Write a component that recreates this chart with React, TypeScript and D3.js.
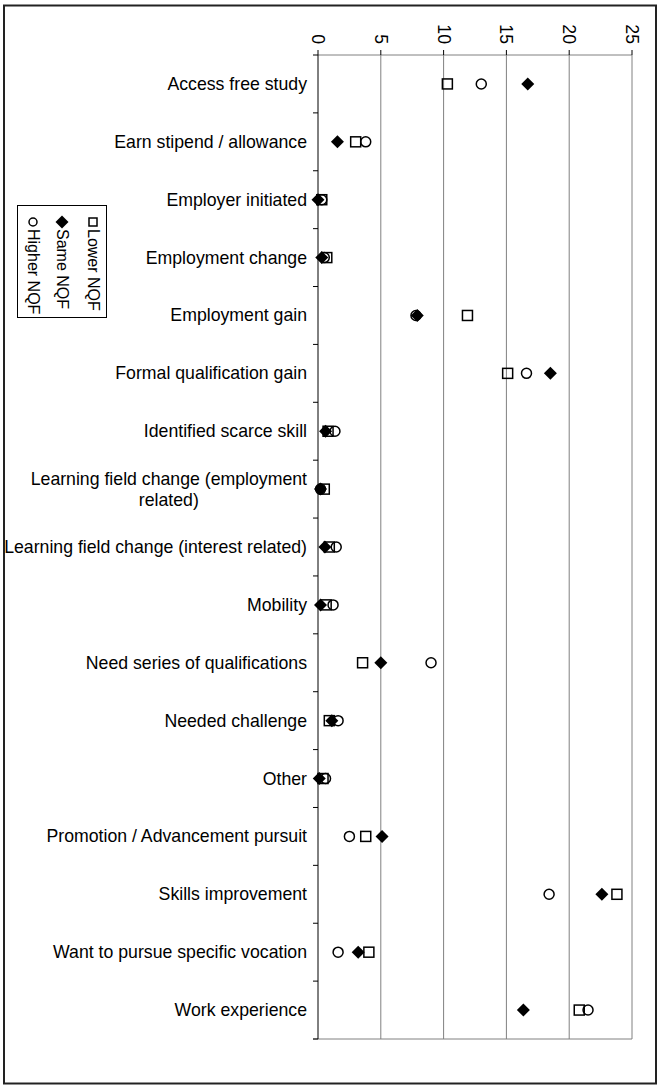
import { useEffect, useRef } from 'react';
import * as d3 from 'd3';

const categories = [
  'Access free study',
  'Earn stipend / allowance',
  'Employer initiated',
  'Employment change',
  'Employment gain',
  'Formal qualification gain',
  'Identified scarce skill',
  'Learning field change (employment related)',
  'Learning field change (interest related)',
  'Mobility',
  'Need series of qualifications',
  'Needed challenge',
  'Other',
  'Promotion / Advancement pursuit',
  'Skills improvement',
  'Want to pursue specific vocation',
  'Work experience',
];

const lowerNQF = [10.3, 3.0, 0.3, 0.7, 11.9, 15.1, 0.8, 0.5, 0.9, 0.65, 3.55, 0.9, 0.4, 3.8, 23.8, 4.05, 20.8];
const sameNQF = [16.7, 1.55, 0, 0.3, 7.9, 18.5, 0.6, 0.2, 0.55, 0.2, 5.0, 1.1, 0.1, 5.1, 22.6, 3.2, 16.35];
const higherNQF = [13.0, 3.8, 0.3, 0.5, 7.8, 16.6, 1.35, 0.2, 1.45, 1.2, 9.0, 1.6, 0.6, 2.5, 18.4, 1.6, 21.5];

const seriesNames = ['Lower NQF', 'Same NQF', 'Higher NQF'];
const xTicks = [0, 5, 10, 15, 20, 25];

// label lines for the one category Excel wrapped
const wrapped: Record<string, string[]> = {
  'Learning field change (employment related)': ['Learning field change (employment', 'related)'],
};

const FONT = '"Liberation Sans", Arial, sans-serif';
const LABEL_SIZE = '17.7px';

type Shape = 'square' | 'diamond' | 'circle';
const shapes: Shape[] = ['square', 'diamond', 'circle'];

function drawMarker(g: d3.Selection<SVGGElement, unknown, null, undefined>, shape: Shape, cx: number, cy: number, s: number) {
  if (shape === 'square') {
    g.append('rect')
      .attr('x', cx - s / 2).attr('y', cy - s / 2)
      .attr('width', s).attr('height', s)
      .attr('fill', 'none').attr('stroke', '#000').attr('stroke-width', 1.5);
  } else if (shape === 'circle') {
    g.append('circle')
      .attr('cx', cx).attr('cy', cy).attr('r', s / 2)
      .attr('fill', 'none').attr('stroke', '#000').attr('stroke-width', 1.5);
  } else {
    const h = s * 0.65;
    g.append('path')
      .attr('d', `M${cx},${cy - h}L${cx + h},${cy}L${cx},${cy + h}L${cx - h},${cy}Z`)
      .attr('fill', '#000');
  }
}

const App = () => {
  const svgRef = useRef<SVGSVGElement>(null);

  useEffect(() => {
    const width = 658;
    const height = 1089;
    const plot = { left: 318, right: 632, top: 55, bottom: 1039 };

    const svg = d3.select(svgRef.current);
    svg.selectAll('*').remove();

    const x = d3.scaleLinear().domain([0, 25]).range([plot.left, plot.right]);
    const y = d3.scaleBand().domain(categories).range([plot.top, plot.bottom]);

    // outer chart border
    svg.append('rect')
      .attr('x', 4).attr('y', 5.5)
      .attr('width', 652).attr('height', 1078)
      .attr('fill', '#fff').attr('stroke', '#222').attr('stroke-width', 2);

    const g = svg.append('g') as d3.Selection<SVGGElement, unknown, null, undefined>;

    // vertical gridlines
    g.selectAll('.grid')
      .data(xTicks.slice(1))
      .enter()
      .append('line')
      .attr('x1', d => x(d)).attr('x2', d => x(d))
      .attr('y1', plot.top).attr('y2', plot.bottom)
      .attr('stroke', '#808080').attr('stroke-width', 1);

    // top value axis + bottom edge
    g.append('line')
      .attr('x1', plot.left).attr('x2', plot.right)
      .attr('y1', plot.top).attr('y2', plot.top)
      .attr('stroke', '#808080');
    g.append('line')
      .attr('x1', plot.left - 5).attr('x2', plot.right)
      .attr('y1', plot.bottom).attr('y2', plot.bottom)
      .attr('stroke', '#808080');
    g.selectAll('.xtick')
      .data(xTicks)
      .enter()
      .append('line')
      .attr('x1', d => x(d)).attr('x2', d => x(d))
      .attr('y1', plot.top - 5).attr('y2', plot.top)
      .attr('stroke', '#000');
    g.selectAll('.xlabel')
      .data(xTicks)
      .enter()
      .append('text')
      .attr('transform', d => `translate(${x(d)},44) rotate(90)`)
      .attr('text-anchor', 'end')
      .attr('dominant-baseline', 'central')
      .style('font-family', FONT)
      .style('font-size', LABEL_SIZE)
      .text(d => d);

    // category axis (value 0 line)
    g.append('line')
      .attr('x1', plot.left).attr('x2', plot.left)
      .attr('y1', plot.top).attr('y2', plot.bottom)
      .attr('stroke', '#000');
    const bounds = categories.map(c => y(c) as number).concat([plot.bottom]);
    g.selectAll('.ytick')
      .data(bounds)
      .enter()
      .append('line')
      .attr('x1', plot.left - 5).attr('x2', plot.left)
      .attr('y1', d => d).attr('y2', d => d)
      .attr('stroke', '#000');

    const labelRight = 307;
    categories.forEach(c => {
      const cy = (y(c) as number) + y.bandwidth() / 2;
      const lines = wrapped[c] || [c];
      if (lines.length === 1) {
        g.append('text')
          .attr('x', labelRight).attr('y', cy)
          .attr('text-anchor', 'end')
          .attr('dominant-baseline', 'central')
          .style('font-family', FONT)
          .style('font-size', LABEL_SIZE)
          .text(c);
      } else {
        const lh = 21;
        const first = g.append('text')
          .attr('x', labelRight).attr('y', cy - lh / 2)
          .attr('text-anchor', 'end')
          .attr('dominant-baseline', 'central')
          .style('font-family', FONT)
          .style('font-size', LABEL_SIZE)
          .text(lines[0]);
        const w = (first.node() as SVGTextElement).getComputedTextLength();
        g.append('text')
          .attr('x', labelRight - w / 2).attr('y', cy + lh / 2)
          .attr('text-anchor', 'middle')
          .attr('dominant-baseline', 'central')
          .style('font-family', FONT)
          .style('font-size', LABEL_SIZE)
          .text(lines[1]);
      }
    });

    // markers, drawn series by series
    [lowerNQF, sameNQF, higherNQF].forEach((vals, si) => {
      vals.forEach((v, i) => {
        const cy = (y(categories[i]) as number) + y.bandwidth() / 2;
        drawMarker(g, shapes[si], x(v), cy, 10);
      });
    });

    // legend (rotated like the rest of the chart)
    g.append('rect')
      .attr('x', 17.5).attr('y', 205.5)
      .attr('width', 89).attr('height', 112)
      .attr('fill', '#fff').attr('stroke', '#000');
    const legendX = [93, 62, 33];
    seriesNames.forEach((name, i) => {
      drawMarker(g, shapes[i], legendX[i], 222, shapes[i] === 'diamond' ? 10 : 8);
      g.append('text')
        .attr('transform', `translate(${legendX[i]},229) rotate(90)`)
        .attr('text-anchor', 'start')
        .attr('dominant-baseline', 'central')
        .style('font-family', FONT)
        .style('font-size', '16px')
        .text(name);
    });

    svg.attr('width', width).attr('height', height);
  }, []);

  return <svg ref={svgRef} width={658} height={1089} style={{ position: 'absolute', left: 0, top: 0, display: 'block' }} />;
};

export default App;
